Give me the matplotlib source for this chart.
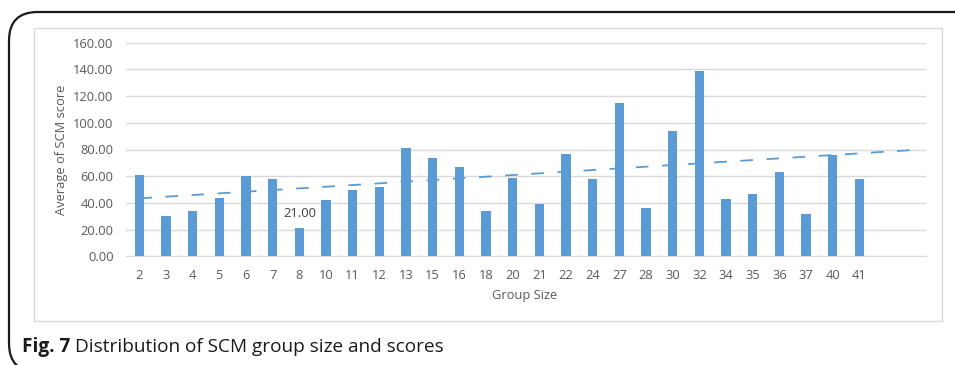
import numpy as np
import matplotlib
matplotlib.use("Agg")
import matplotlib.pyplot as plt
from matplotlib.patches import FancyBboxPatch, Rectangle

group_sizes = ["2", "3", "4", "5", "6", "7", "8", "10", "11", "12", "13", "15", "16", "18",
               "20", "21", "22", "24", "27", "28", "30", "32", "34", "35", "36", "37", "40", "41"]
avg_scores = [61, 30, 34, 44, 60, 58, 21, 42, 50, 52, 81, 74, 67, 34,
              59, 39, 77, 58, 115, 36, 94, 139, 43, 47, 63, 32, 76, 58]
y_ticks = [0, 20, 40, 60, 80, 100, 120, 140, 160]
labelled_group = "8"
forecast_periods = 2
# linear trend line values at the first category and at the end of the forecast
trend_ends = [43.4, 79.6]

BAR = "#5B9BD5"
GRID = "#D9D9D9"
TXT = "#595959"
FONT = ["Open Sans", "DejaVu Sans"]

W, H = 955, 365
fig = plt.figure(figsize=(W / 100, H / 100), dpi=100)
fig.patch.set_facecolor("white")

def fx(px):
    return px / W

def fy(py):
    return 1 - py / H

# outer rounded frame around the figure panel
frame = FancyBboxPatch((fx(9), fy(372)), fx(980), fy(12) - fy(372),
                       boxstyle="round,pad=0,rounding_size=0.03",
                       transform=fig.transFigure, fill=False,
                       edgecolor="#1a1a1a", linewidth=1.6, mutation_aspect=W / H)
fig.add_artist(frame)

# light chart-area border
fig.add_artist(Rectangle((fx(34), fy(320.5)), fx(942) - fx(34), fy(27.5) - fy(320.5),
                         transform=fig.transFigure, fill=False,
                         edgecolor="#D9D9D9", linewidth=1.0))

ax = fig.add_axes([fx(126), fy(256.3), fx(926) - fx(126), fy(42.7) - fy(256.3)])

n = len(group_sizes)
x = np.arange(n)
ax.bar(x, avg_scores, width=0.34, color=BAR, zorder=3)

# trend, projected two periods past the last group
xt = [0, n - 1 + forecast_periods]
ax.plot(xt, trend_ends, color=BAR, lw=1.3, dashes=(7, 7.5), zorder=4)

i = group_sizes.index(labelled_group)
ax.text(x[i], avg_scores[i] + 6, f"{avg_scores[i]:.2f}", ha="center", va="bottom",
        fontsize=9.3, color="#404040", family=FONT)

ax.set_xlim(-0.5, n - 0.5 + forecast_periods)
ax.set_ylim(0, 160)
ax.set_yticks(y_ticks)
ax.set_yticklabels([f"{v:.2f}" for v in y_ticks], family=FONT, fontsize=9.3, color=TXT)
ax.set_xticks(x)
ax.set_xticklabels(group_sizes, family=FONT, fontsize=9.3, color=TXT)
ax.tick_params(axis="x", length=0, pad=9)
ax.tick_params(axis="y", length=0, pad=9)
ax.grid(axis="y", color=GRID, lw=1.0, zorder=0)
for s in ax.spines.values():
    s.set_visible(False)
ax.spines["bottom"].set_visible(True)
ax.spines["bottom"].set_color(GRID)

fig.text(fx(525), fy(296), "Group Size", ha="center", va="center",
         fontsize=9.3, color=TXT, family=FONT)
fig.text(fx(61), fy(150), "Average of SCM score", ha="center", va="center",
         rotation=90, fontsize=9.3, color=TXT, family=FONT)

cap = fig.text(fx(22), fy(347), "Fig. 7", ha="left", va="center",
               fontsize=13.7, fontweight="bold", color="#1a1a1a", family=FONT)
fig.canvas.draw()
bb = cap.get_window_extent()
fig.text(bb.x1 / W + fx(5), fy(347), "Distribution of SCM group size and scores",
         ha="left", va="center", fontsize=13.7, color="#1a1a1a", family=FONT)

fig.savefig("out.png", dpi=100, facecolor="white")
